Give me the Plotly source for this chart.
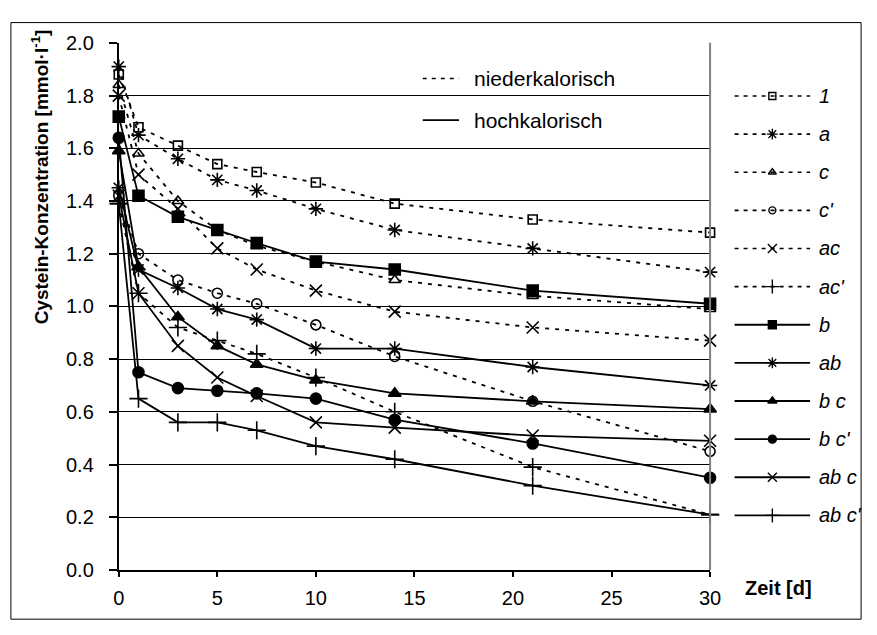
import plotly.graph_objects as go

# ---- data -------------------------------------------------------------
days = [0, 1, 3, 5, 7, 10, 14, 21, 30]

# low-calorie series (dashed)
s_1 = [1.88, 1.68, 1.61, 1.54, 1.51, 1.47, 1.39, 1.33, 1.28]
s_a = [1.91, 1.65, 1.56, 1.48, 1.44, 1.37, 1.29, 1.22, 1.13]
s_c = [1.84, 1.58, 1.40, 1.29, 1.23, 1.17, 1.10, 1.04, 0.99]
s_c2 = [1.42, 1.20, 1.10, 1.05, 1.01, 0.93, 0.81, 0.64, 0.45]
s_ac = [1.80, 1.50, 1.37, 1.22, 1.14, 1.06, 0.98, 0.92, 0.87]
s_ac2 = [1.39, 1.05, 0.92, 0.87, 0.82, 0.73, 0.60, 0.39, 0.21]

# high-calorie series (solid)
s_b = [1.72, 1.42, 1.34, 1.29, 1.24, 1.17, 1.14, 1.06, 1.01]
s_ab = [1.45, 1.14, 1.07, 0.99, 0.95, 0.84, 0.84, 0.77, 0.70]
s_bc = [1.59, 1.15, 0.96, 0.85, 0.78, 0.72, 0.67, 0.64, 0.61]
s_bc2 = [1.64, 0.75, 0.69, 0.68, 0.67, 0.65, 0.57, 0.48, 0.35]
s_abc = [1.42, 1.05, 0.85, 0.73, 0.66, 0.56, 0.54, 0.51, 0.49]
s_abc2 = [1.39, 0.65, 0.56, 0.56, 0.53, 0.47, 0.42, 0.32, 0.21]

labels = ["1", "a", "c", "c'", "ac", "ac'", "b", "ab", "b c", "b c'", "ab c", "ab c'"]
values = [s_1, s_a, s_c, s_c2, s_ac, s_ac2, s_b, s_ab, s_bc, s_bc2, s_abc, s_abc2]
symbols = ["square-open", "asterisk-open", "triangle-up-open", "circle-open",
           "x-thin-open", "cross-thin-open", "square", "asterisk-open",
           "triangle-up", "circle", "x-thin-open", "cross-thin-open"]
dashed = [True] * 6 + [False] * 6

y_ticks = [0.0, 0.2, 0.4, 0.6, 0.8, 1.0, 1.2, 1.4, 1.6, 1.8, 2.0]
x_ticks = [0, 5, 10, 15, 20, 25, 30]

# ---- layout geometry (pixels) ------------------------------------------
W, H = 877, 635
PL, PR, PT, PB = 115, 718, 33, 579      # plot area edges
FONT = "Liberation Sans, Arial, sans-serif"
DASH_PLOT = "4px,6px"
DASH_KEY = "4px,5px"

marker_size = {"square-open": 9, "asterisk-open": 12, "triangle-up-open": 10,
               "circle-open": 10, "x-thin-open": 12, "cross-thin-open": 13,
               "square": 11, "triangle-up": 11, "circle": 11}

fig = go.Figure()

for lab, vals, sym, dsh in zip(labels, values, symbols, dashed):
    fig.add_trace(go.Scatter(
        x=days, y=vals, mode="lines+markers", name=lab,
        line=dict(color="black", width=1.8, dash=DASH_PLOT if dsh else "solid"),
        marker=dict(symbol=sym, size=marker_size[sym], color="black",
                    line=dict(color="black", width=1.6)),
        cliponaxis=False, showlegend=False,
        xaxis="x", yaxis="y"))

# ---- key drawn in a pixel-space overlay --------------------------------
KEY_X0, KEY_X1, KEY_TX = 743, 820, 827
KEY_Y0, KEY_DY = 88, 39.5
annotations = []
for i, (lab, sym, dsh) in enumerate(zip(labels, symbols, dashed)):
    yy = KEY_Y0 + i * KEY_DY
    fig.add_trace(go.Scatter(
        x=[KEY_X0, KEY_X1], y=[yy, yy], mode="lines",
        line=dict(color="black", width=1.6 if dsh else 1.8,
                  dash=DASH_KEY if dsh else "solid"),
        showlegend=False, hoverinfo="skip", xaxis="x2", yaxis="y2", cliponaxis=False))
    fig.add_trace(go.Scatter(
        x=[(KEY_X0 + KEY_X1) / 2], y=[yy], mode="markers",
        marker=dict(symbol=sym, size=max(marker_size[sym] - 3, 7), color="black",
                    line=dict(color="black", width=1.4)),
        showlegend=False, hoverinfo="skip", xaxis="x2", yaxis="y2", cliponaxis=False))
    annotations.append(dict(x=KEY_TX, y=yy, xref="x2", yref="y2", text=f"<i>{lab}</i>",
                            showarrow=False, xanchor="left", yanchor="middle",
                            font=dict(family=FONT, size=20, color="black")))

# line-style key inside the plot
STYLE_X0, STYLE_X1, STYLE_TX = 425, 462, 475
for yy, dsh, txt in [(70, True, "niederkalorisch"), (113, False, "hochkalorisch")]:
    fig.add_trace(go.Scatter(
        x=[STYLE_X0, STYLE_X1], y=[yy, yy], mode="lines",
        line=dict(color="black", width=1.6, dash=DASH_KEY if dsh else "solid"),
        showlegend=False, hoverinfo="skip", xaxis="x2", yaxis="y2", cliponaxis=False))
    annotations.append(dict(x=STYLE_TX, y=yy, xref="x2", yref="y2", text=txt,
                            showarrow=False, xanchor="left", yanchor="middle",
                            font=dict(family=FONT, size=21, color="black")))

# axis titles
annotations.append(dict(x=35, y=172, xref="x2", yref="y2",
                        text="<b>Cystein-Konzentration [mmol·l<sup>-1</sup>]</b>",
                        textangle=-90, showarrow=False, xanchor="center", yanchor="middle",
                        font=dict(family=FONT, size=19, color="black")))
annotations.append(dict(x=752, y=598, xref="x2", yref="y2", text="<b>Zeit [d]</b>",
                        showarrow=False, xanchor="left", yanchor="middle",
                        font=dict(family=FONT, size=20, color="black")))

shapes = [
    # outer frame of the chart
    dict(type="rect", xref="x2", yref="y2", x0=5, x1=872, y0=12, y1=630,
         line=dict(color="black", width=1), layer="below"),
    # grey right edge of the plot area
    dict(type="line", xref="paper", yref="paper",
         x0=PR / W, x1=PR / W, y0=1 - PB / H, y1=1 - PT / H,
         line=dict(color="#808080", width=2)),
]

axis_font = dict(family=FONT, size=20, color="black")
fig.update_layout(
    width=W, height=H,
    margin=dict(l=0, r=0, t=0, b=0),
    paper_bgcolor="white", plot_bgcolor="rgba(0,0,0,0)",
    font=dict(family=FONT, color="black"),
    xaxis=dict(domain=[PL / W, PR / W], range=[0, 30], tickvals=x_ticks,
               ticks="outside", ticklen=5, tickwidth=1.5, tickcolor="black",
               showline=True, linecolor="black", linewidth=1.5,
               showgrid=False, zeroline=False, tickfont=axis_font,
               ticklabelstandoff=4, anchor="y"),
    yaxis=dict(domain=[1 - PB / H, 1 - PT / H], range=[0, 2.0], tickvals=y_ticks,
               tickformat=".1f", ticks="outside", ticklen=8, tickwidth=1.5,
               tickcolor="black", showline=True, linecolor="black", linewidth=2,
               showgrid=True, gridcolor="black", gridwidth=1, zeroline=False,
               tickfont=axis_font, ticklabelstandoff=11, anchor="x"),
    xaxis2=dict(domain=[0, 1], range=[0, W], visible=False, anchor="y2"),
    yaxis2=dict(domain=[0, 1], range=[H, 0], visible=False, anchor="x2"),
    annotations=annotations,
    shapes=shapes,
    showlegend=False,
)

fig.write_html("out.html")
